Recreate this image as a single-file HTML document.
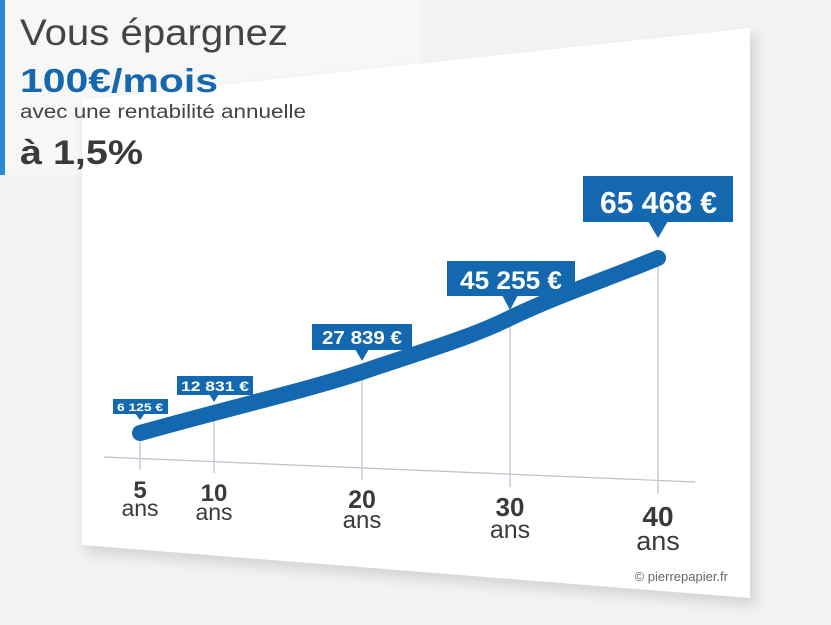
<!DOCTYPE html>
<html><head><meta charset="utf-8"><style>
html,body{margin:0;padding:0;width:831px;height:625px;overflow:hidden;background:#f2f2f2}
svg{display:block}
text{font-family:"Liberation Sans",sans-serif}
</style></head><body>
<svg width="831" height="625" viewBox="0 0 831 625">
<defs><filter id="sh" x="-10%" y="-10%" width="130%" height="130%"><feGaussianBlur stdDeviation="6"/></filter></defs>
<rect width="831" height="625" fill="#f3f3f3"/>
<rect x="0" y="0" width="420" height="175" fill="#f7f7f7"/>
<polygon points="86,108 756,34 756,606 86,553" fill="#c8c8c8" filter="url(#sh)" opacity="0.7"/>
<polygon points="82,100 750,28 750,598 82,545" fill="#fff"/>
<rect x="0" y="0" width="5" height="175" fill="#2a8ad0"/>
<text x="20" y="45" font-size="37" fill="#444" textLength="268" lengthAdjust="spacingAndGlyphs">Vous épargnez</text>
<text x="20" y="92" font-size="33" font-weight="bold" fill="#1568b0" textLength="198" lengthAdjust="spacingAndGlyphs">100€/mois</text>
<text x="20" y="118" font-size="19" fill="#444" textLength="286" lengthAdjust="spacingAndGlyphs">avec une rentabilité annuelle</text>
<text x="20" y="164" font-size="34" font-weight="bold" fill="#3a3a3a" textLength="123" lengthAdjust="spacingAndGlyphs">à 1,5%</text>
<line x1="104" y1="457" x2="695" y2="482" stroke="#b8c2cc" stroke-width="1.2"/>
<g stroke="#c8ccd2" stroke-width="1.5">
<line x1="140" y1="435" x2="140" y2="470"/>
<line x1="214" y1="418" x2="214" y2="473"/>
<line x1="362" y1="376" x2="362" y2="480"/>
<line x1="510" y1="323" x2="510" y2="487"/>
<line x1="658" y1="258" x2="658" y2="494"/>
</g>
<path d="M140,433 C240,405 300,392 362,372 C420,352 470,338 510,318 C560,294 610,278 658,258" fill="none" stroke="#1468b0" stroke-width="16" stroke-linecap="round"/>
<g fill="#1468b0">
<rect x="113" y="399" width="55" height="15"/><polygon points="135,413 145,413 140,420"/>
<rect x="177" y="376" width="76" height="19"/><polygon points="209,394 219,394 214,402"/>
<rect x="312" y="324" width="100" height="26"/><polygon points="355,349 369,349 362,361"/>
<rect x="447" y="261" width="128" height="35"/><polygon points="502,295 518,295 510,310"/>
<rect x="583" y="176" width="150" height="46"/><polygon points="648,221 668,221 658,238"/>
</g>
<g fill="#fff" font-weight="bold">
<text x="117" y="411" font-size="11" textLength="46" lengthAdjust="spacingAndGlyphs">6 125 €</text>
<text x="181" y="391" font-size="14" textLength="68" lengthAdjust="spacingAndGlyphs">12 831 €</text>
<text x="322" y="344" font-size="18" textLength="80" lengthAdjust="spacingAndGlyphs">27 839 €</text>
<text x="460" y="289" font-size="25" textLength="102" lengthAdjust="spacingAndGlyphs">45 255 €</text>
<text x="600" y="213" font-size="31" textLength="117" lengthAdjust="spacingAndGlyphs">65 468 €</text>
</g>
<g text-anchor="middle" fill="#3a3a3a">
<text x="140" y="498" font-size="24" font-weight="bold">5</text>
<text x="140" y="516" font-size="23">ans</text>
<text x="214" y="501" font-size="24" font-weight="bold">10</text>
<text x="214" y="520" font-size="23">ans</text>
<text x="362" y="508" font-size="25" font-weight="bold">20</text>
<text x="362" y="528" font-size="24">ans</text>
<text x="510" y="516" font-size="26" font-weight="bold">30</text>
<text x="510" y="538" font-size="25">ans</text>
<text x="658" y="526" font-size="28" font-weight="bold">40</text>
<text x="658" y="550" font-size="27">ans</text>
</g>
<text x="728" y="581" font-size="13" fill="#666" text-anchor="end">© pierrepapier.fr</text>
</svg>
</body></html>
